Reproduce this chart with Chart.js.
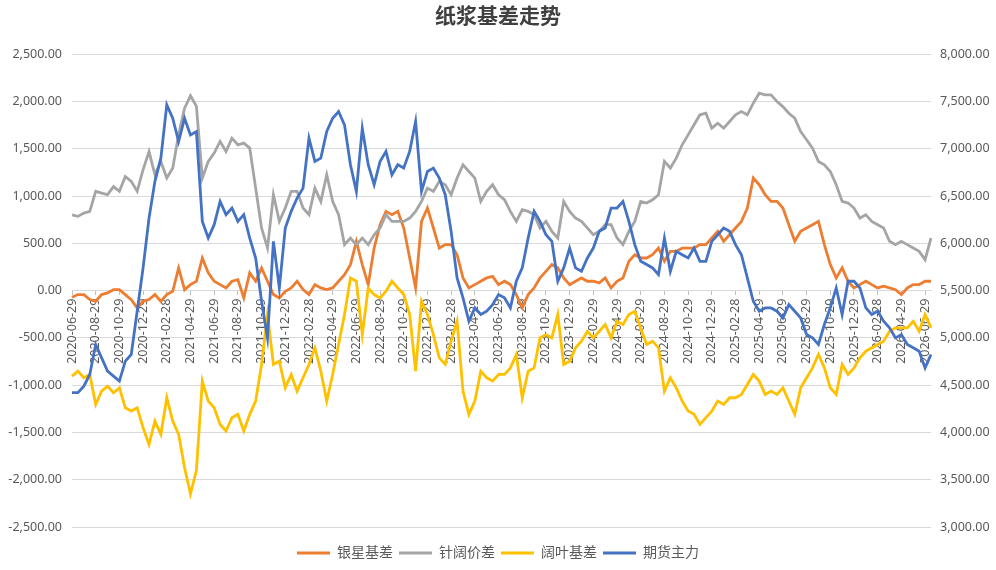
<!DOCTYPE html>
<html lang="zh-CN">
<head>
<meta charset="UTF-8">
<title>纸浆基差走势</title>
<script src="https://cdn.jsdelivr.net/npm/chart.js"></script>
<style>
  html, body { margin: 0; padding: 0; background: #fff; }
  #wrap { width: 996px; height: 570px; }
</style>
</head>
<body>
<div id="wrap"><canvas id="chart"></canvas></div>
<script>
// categories: 29th of each month and 14th in between, 2020-06-29 .. 2026-07-14
const categories = [];
for (let i = 0; i < 146; i++) {
  const mi = 5 + (i % 2 === 0 ? i / 2 : (i + 1) / 2);
  const y = 2020 + Math.floor(mi / 12);
  const m = mi % 12 + 1;
  let d = i % 2 === 0 ? 29 : 14;
  if (m === 2 && d === 29 && y % 4 !== 0) d = 28;
  categories.push(y + '-' + String(m).padStart(2, '0') + '-' + String(d).padStart(2, '0'));
}
// every second month gets a label on the axis
const tickDates = categories.filter((c, i) => i % 4 === 0);

// 银星基差 (left axis)
const yinxing = [
  -70, -42, -42, -95, -113, -42, -25, 10, 10, -42, -95, -183, -113, -95, -42, -113, -42, -7, 240, 10, 63, 99, 345, 187,
  99, 63, 28, 99, 116, -77, 187, 99, 240, 99, -42, -77, -7, 28, 99, 10, -42, 63, 28, 10, 28, 99, 169, 275,
  521, 275, 63, 450, 697, 838, 803, 838, 662, 345, 28, 732, 873, 662, 450, 486, 486, 380, 134, 28, 63, 99, 134, 151, 63,
  99, 63, -42, -183, -42, 28, 134, 204, 275, 240, 134, 63, 99, 134, 99, 99, 81, 134, 28, 99, 134, 310, 380, 345,
  345, 380, 450, 310, 415, 415, 450, 450, 450, 486, 486, 556, 627, 521, 591, 662, 732, 873, 1190, 1120, 1014, 943, 943, 873, 697,
  521, 627, 662, 697, 732, 486, 275, 134, 240, 99, 28, 63, 99, 63, 28, 46, 28, 10, -42, 28, 63, 63, 99, 99
];
// 针阔价差 (left axis)
const zhenkuo = [
  800, 785, 820, 838, 1050, 1030, 1015, 1100, 1050, 1207, 1155, 1050, 1280, 1470, 1225, 1365, 1190, 1295, 1650, 1930, 2060, 1950, 1190, 1365,
  1454, 1577, 1472, 1612, 1542, 1560, 1507, 1084, 662, 450, 1014, 732, 873, 1050, 1050, 873, 803, 1084, 943, 1225, 943, 803, 486, 556,
  486, 556, 486, 591, 662, 803, 732, 732, 732, 767, 838, 943, 1084, 1049, 1155, 1120, 1014, 1190, 1331, 1260, 1190, 943, 1049, 1120, 1014,
  961, 838, 732, 855, 838, 803, 662, 732, 627, 556, 943, 838, 767, 732, 662, 591, 627, 697, 697, 556, 486, 627, 732, 943,
  926, 961, 1014, 1366, 1296, 1401, 1542, 1647, 1753, 1859, 1876, 1718, 1770, 1718, 1788, 1859, 1894, 1859, 1982, 2087, 2070, 2070, 2000, 1946, 1876,
  1823, 1682, 1595, 1507, 1366, 1331, 1260, 1120, 943, 926, 873, 767, 803, 732, 697, 662, 521, 486, 521, 486, 450, 415, 327, 556
];
// 阔叶基差 (left axis)
const kuoye = [
  -905, -852, -922, -887, -1204, -1063, -1010, -1080, -1028, -1239, -1274, -1239, -1450, -1626, -1380, -1520, -1133, -1380, -1520, -1872, -2150, -1900, -957, -1168,
  -1239, -1415, -1485, -1344, -1309, -1485, -1309, -1168, -781, -253, -781, -746, -1028, -887, -1063, -922, -781, -605, -852, -1168, -887, -570, -253, 134,
  99, -465, 28, -42, -77, -7, 99, 28, -42, -253, -852, -113, -253, -465, -711, -781, -535, -324, -1063, -1309, -1168, -852, -922, -957, -887,
  -887, -817, -676, -1133, -852, -817, -500, -465, -500, -253, -781, -746, -605, -535, -430, -500, -430, -359, -500, -324, -359, -253, -218, -400,
  -570, -535, -605, -1063, -922, -1028, -1168, -1274, -1309, -1415, -1344, -1274, -1168, -1204, -1133, -1133, -1098, -993, -887, -957, -1098, -1063, -1098, -1028, -1168,
  -1309, -1028, -922, -817, -676, -817, -1028, -1098, -781, -887, -817, -711, -641, -605, -570, -535, -430, -394, -394, -394, -324, -430, -253, -394
];
// 期货主力 (right axis)
const futures = [
  4420, 4420, 4490, 4613, 4930, 4789, 4648, 4595, 4543, 4754, 4824, 5282, 5740, 6267, 6655, 6900, 7464, 7323, 7077, 7323, 7147, 7182, 6232, 6056,
  6197, 6443, 6303, 6373, 6232, 6303, 6056, 5845, 5387, 5000, 6021, 5528, 6162, 6338, 6479, 6584, 7112, 6866, 6901, 7182, 7323, 7394, 7253, 6831,
  6549, 7217, 6831, 6620, 6866, 6972, 6725, 6831, 6796, 6972, 7288, 6549, 6760, 6796, 6690, 6514, 6126, 5634, 5423, 5176, 5317, 5247, 5282, 5352, 5458,
  5423, 5317, 5599, 5740, 6056, 6338, 6232, 6091, 6021, 5599, 5740, 5950, 5740, 5704, 5845, 5950, 6127, 6162, 6373, 6373, 6443, 6232, 5986, 5810,
  5775, 5740, 5669, 6056, 5704, 5915, 5880, 5845, 5950, 5810, 5810, 6021, 6091, 6162, 6127, 5986, 5880, 5634, 5387, 5282, 5317, 5317, 5282, 5211, 5352,
  5282, 5211, 5035, 5000, 4930, 5141, 5317, 5528, 5247, 5599, 5599, 5528, 5317, 5247, 5282, 5176, 5106, 5000, 5035, 4930, 4895, 4859, 4683, 4824
];

const FONT = '"Noto Sans", "Noto Sans CJK SC", sans-serif';
const fmt = v => Number(v).toLocaleString('en-US', { minimumFractionDigits: 2, maximumFractionDigits: 2 });

function line(label, data, color, axis, order) {
  return {
    label: label,
    data: data,
    yAxisID: axis,
    borderColor: color,
    backgroundColor: color,
    borderWidth: 2.8,
    pointRadius: 0,
    tension: 0,
    order: order
  };
}

const ctx = document.getElementById('chart').getContext('2d');
new Chart(ctx, {
  type: 'line',
  data: {
    labels: categories,
    datasets: [
      line('银星基差', yinxing, '#ED7D31', 'y', 4),
      line('针阔价差', zhenkuo, '#A5A5A5', 'y', 3),
      line('阔叶基差', kuoye, '#FFC000', 'y', 2),
      line('期货主力', futures, '#4472C4', 'y2', 1)
    ]
  },
  options: {
    responsive: true,
    maintainAspectRatio: false,
    animation: false,
    layout: { padding: { top: 0, right: 0, bottom: 0, left: 0 } },
    plugins: {
      title: {
        display: true,
        text: '纸浆基差走势',
        color: '#404040',
        font: { family: FONT, size: 21, weight: 'bold' },
        padding: { top: 4, bottom: 25 }
      },
      legend: {
        position: 'bottom',
        // empty legend title only keeps a gap above the legend row
        title: { display: true, text: ' ', font: { size: 11, lineHeight: 1 }, padding: { top: 1, bottom: 1 } },
        labels: {
          color: '#595959',
          font: { family: FONT, size: 14, lineHeight: 1 },
          boxWidth: 33,
          boxHeight: 3,
          padding: 6,
          sort: (a, b) => a.datasetIndex - b.datasetIndex,
          generateLabels: chart => Chart.defaults.plugins.legend.labels.generateLabels(chart)
            .map(l => Object.assign(l, { lineWidth: 0 }))
        }
      },
      tooltip: { enabled: false }
    },
    scales: {
      x: {
        position: { y: 0 },
        z: 1,
        offset: false,
        afterFit: s => { s.height = 0; },
        grid: { display: true, drawOnChartArea: false, drawTicks: true, tickLength: 4, color: '#BFBFBF' },
        border: { display: true, color: '#D9D9D9' },
        ticks: {
          autoSkip: false,
          minRotation: 90,
          maxRotation: 90,
          padding: 4,
          color: '#595959',
          font: { family: FONT, size: 12.5 },
          callback: function (value) {
            const c = this.getLabelForValue(value);
            return tickDates.includes(c) ? c : null;
          }
        }
      },
      y: {
        position: 'left',
        min: -2500,
        max: 2500,
        afterFit: s => { s.width = 72; },
        grid: { color: '#D9D9D9', drawTicks: false },
        border: { display: false },
        ticks: { stepSize: 500, padding: 10, color: '#595959', font: { family: FONT, size: 12.5 }, callback: fmt }
      },
      y2: {
        position: 'right',
        min: 3000,
        max: 8000,
        afterFit: s => { s.width = 65; },
        grid: { drawOnChartArea: false, drawTicks: false },
        border: { display: false },
        ticks: { stepSize: 500, padding: 9, color: '#595959', font: { family: FONT, size: 12.5 }, callback: fmt }
      }
    }
  }
});
</script>
</body>
</html>
